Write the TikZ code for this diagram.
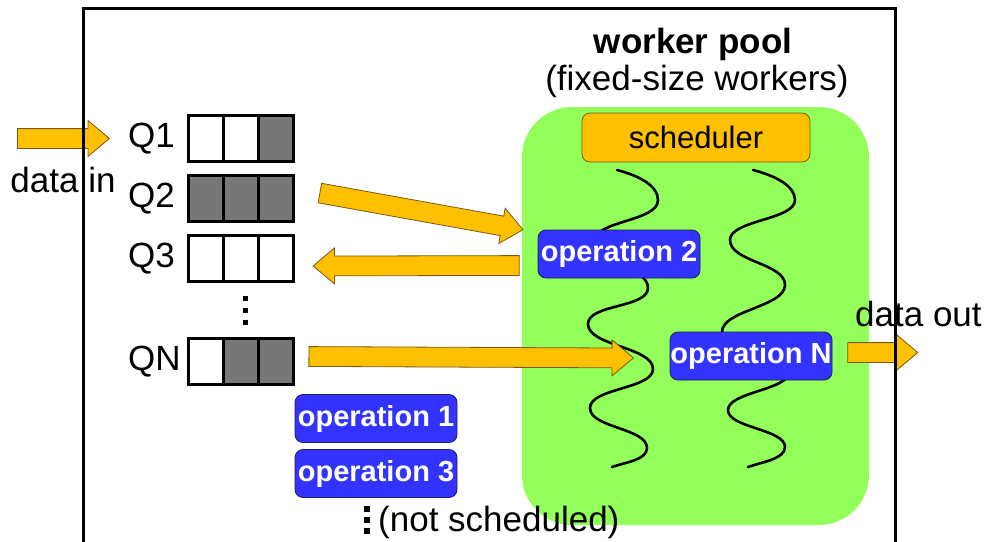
\documentclass[tikz,border=0pt]{standalone}
\usepackage{fontspec}
\setmainfont{Liberation Sans}
\usetikzlibrary{positioning,calc,shapes.arrows}

\definecolor{poolgreen}{RGB}{146,255,90}
\definecolor{arroworange}{RGB}{255,192,0}
\definecolor{arrowline}{RGB}{120,90,20}
\definecolor{opblue}{RGB}{51,51,255}
\definecolor{opline}{RGB}{30,30,90}
\definecolor{cellgray}{RGB}{119,119,119}

\tikzset{
  cell/.style={draw, line width=3, minimum width=35, minimum height=46, inner sep=0},
  bigtext/.style={font=\fontsize{35}{40}\selectfont, inner sep=0},
  opbox/.style={rounded corners=8, draw=opline, line width=0.8, fill=opblue, text=white,
    font=\bfseries\fontsize{29}{32}\selectfont, minimum width=162, minimum height=48, inner sep=0},
  fatarrow/.style={single arrow, draw=arrowline, fill=arroworange, line width=0.8,
    inner xsep=0, inner ysep=9.5, single arrow head extend=8, single arrow tip angle=80},
  wave/.style={line width=2.6, line cap=round},
  sqdot/.style={fill, minimum size=5, inner sep=0},
}

% block arrow from #2 to #3, named #1
\newcommand{\fatarrow}[3]{%
  \path let \p1=($(#3)-(#2)$) in
    node[fatarrow, anchor=tail, rotate={atan2(\y1,\x1)}, minimum height={veclen(\x1,\y1)}] (#1) at (#2) {};}

\begin{document}
\begin{tikzpicture}[x=1pt, y=-1pt]
  \useasboundingbox (0,0) rectangle (988,541);

  % Worker pool and its title
  \fill[poolgreen, rounded corners=50] (522,107) rectangle (869,525);
  \node[bigtext, font=\bfseries\fontsize{35}{40}\selectfont, anchor=base] (pool) at (693,53) {worker pool};
  \node[bigtext, anchor=base] (poolsub) at (697,90) {(fixed-size workers)};
  \node[rounded corners=8, draw=arrowline, line width=0.8, fill=arroworange, minimum width=228,
    minimum height=49, inner sep=0, font=\fontsize{31}{34}\selectfont] (sched) at (696,137.5) {scheduler};

  % The two workers
  \draw[wave] (617,170) .. controls (640,176) and (658,186) .. (658,200)
    .. controls +(0,22) and +(0,-22) .. (594,242)
    .. controls +(0,22) and +(0,-22) .. (648,288)
    .. controls +(0,20) and +(0,-20) .. (588,324)
    .. controls +(0,22) and +(0,-22) .. (653,369)
    .. controls +(0,20) and +(0,-20) .. (590,408)
    .. controls +(0,20) and +(0,-20) .. (647,448)
    .. controls +(0,12) and +(14,-5) .. (612,467);
  \draw[wave] (753,170) .. controls (776,176) and (795,186) .. (795,200)
    .. controls +(0,20) and +(0,-20) .. (730,240)
    .. controls +(0,22) and +(0,-22) .. (785,285)
    .. controls +(0,22) and +(0,-22) .. (722,332)
    .. controls +(0,20) and +(0,-20) .. (789,372)
    .. controls +(0,18) and +(0,-18) .. (728,410)
    .. controls +(0,18) and +(0,-18) .. (785,447)
    .. controls +(0,12) and +(14,-5) .. (748,467);

  % Operations
  \node[opbox] (op2) at (619,254) {operation 2};
  \node[opbox] (opN) at (751,356) {operation N};
  \node[opbox] (op1) at (376,418.5) {operation 1};
  \node[opbox] (op3) at (376,473.5) {operation 3};

  % Queues
  \foreach \q/\y/\ca/\cb/\cc in {Q1/138.5/white/white/cellgray, Q2/198.5/cellgray/cellgray/cellgray,
      Q3/258.5/white/white/white, QN/361.5/white/cellgray/cellgray} {
    \node[cell, fill=\ca] (\q a) at (205.5,\y) {};
    \node[cell, fill=\cb] (\q b) at (240.5,\y) {};
    \node[cell, fill=\cc] (\q c) at (275.5,\y) {};
    \node[bigtext, anchor=west] (\q) at (128,\y) {\q};
  }
  \foreach \y [count=\i] in {298,310,322}
    \node[sqdot] (qdot\i) at (245,\y) {};

  % Not scheduled
  \foreach \y [count=\i] in {509,520,531}
    \node[sqdot, minimum size=6] (odot\i) at (367,\y) {};
  \node[bigtext, anchor=base west] (notsched) at (378,531) {(not scheduled)};

  % Data flow
  \coordinate (intail) at (17,138.5);
  \coordinate (intip) at ($(Q1.west)+(-19,0)$);
  \coordinate (q2tail) at ($(Q2c.east)+(25,-5.5)$);
  \coordinate (op2tip) at ($(op2.north west)+(-15,0)$);
  \coordinate (op2tail) at ($(op2.west)+(-18,11.5)$);
  \coordinate (q3tip) at ($(Q3c.east)+(19,7.5)$);
  \coordinate (qntail) at ($(QNc.east)+(14,-5)$);
  \coordinate (qntip) at (633,358);
  \coordinate (outtail) at ($(opN.east)+(15,-3.5)$);
  \coordinate (outtip) at ($(outtail)+(70,0)$);
  \fatarrow{inarrow}{intail}{intip}
  \fatarrow{q2arrow}{q2tail}{op2tip}
  \fatarrow{q3arrow}{op2tail}{q3tip}
  \fatarrow{qnarrow}{qntail}{qntip}
  \fatarrow{outarrow}{outtail}{outtip}
  \node[bigtext, anchor=base] (datain) at (63,192) {data in};
  \node[bigtext, anchor=base west] (dataout) at (855,326) {data out};

  % Outer frame
  \draw[line width=3] (83,545) |- (895,8) -- (895,545);
\end{tikzpicture}
\end{document}
